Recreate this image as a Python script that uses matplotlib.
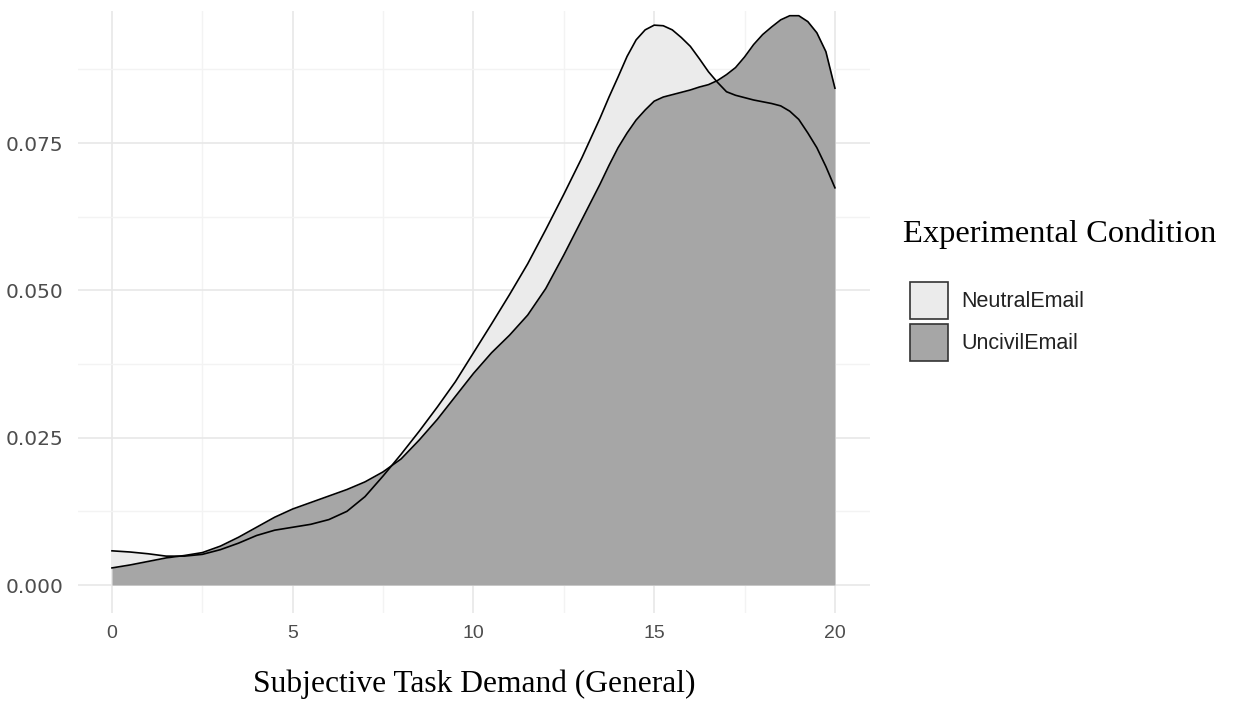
import numpy as np
import matplotlib
matplotlib.use("Agg")
import matplotlib.pyplot as plt
from matplotlib.patches import Patch
from matplotlib.ticker import MultipleLocator

# values (finer steps near the peaks)
task_demand = [0, 0.5, 1, 1.5, 2, 2.5, 3, 3.5, 4, 4.5, 5, 5.5, 6, 6.5, 7, 7.5,
               8, 8.5, 9, 9.5, 10, 10.5, 11, 11.5, 12, 12.5, 13,
               13.5, 13.75, 14, 14.25, 14.5, 14.75, 15, 15.25, 15.5, 15.75,
               16, 16.25, 16.5, 16.75, 17, 17.25, 17.5, 17.75, 18, 18.25,
               18.5, 18.75, 19, 19.25, 19.5, 19.75, 20]
neutral_density = [0.0058, 0.0056, 0.0053, 0.0049, 0.0049, 0.0052, 0.0060, 0.0071,
                   0.0084, 0.0093, 0.0098, 0.0103, 0.0111, 0.0125, 0.0150, 0.0185,
                   0.0222, 0.0261, 0.0302, 0.0345, 0.0394, 0.0443, 0.0493, 0.0545,
                   0.0603, 0.0663, 0.0725,
                   0.0792, 0.0828, 0.0862, 0.0897, 0.0925, 0.0942, 0.0950, 0.0949,
                   0.0942, 0.0929, 0.0914, 0.0893, 0.0871, 0.0853, 0.0837, 0.0831,
                   0.0827, 0.0823, 0.0820, 0.0817, 0.0813, 0.0804, 0.0790, 0.0767,
                   0.0742, 0.0710, 0.0674]
uncivil_density = [0.0029, 0.0034, 0.0040, 0.0046, 0.0050, 0.0055, 0.0066, 0.0081,
                   0.0098, 0.0115, 0.0129, 0.0140, 0.0151, 0.0162, 0.0175, 0.0192,
                   0.0214, 0.0246, 0.0281, 0.0320, 0.0359, 0.0394, 0.0424, 0.0458,
                   0.0503, 0.0560, 0.0620,
                   0.0680, 0.0712, 0.0742, 0.0767, 0.0789, 0.0806, 0.0821, 0.0828,
                   0.0832, 0.0836, 0.0840, 0.0845, 0.0849, 0.0856, 0.0866, 0.0878,
                   0.0896, 0.0917, 0.0934, 0.0947, 0.0959, 0.0966, 0.0966, 0.0956,
                   0.0937, 0.0905, 0.0843]
conditions = ["NeutralEmail", "UncivilEmail"]
fill_colors = ["#ebebeb", "#a6a6a6"]
x_ticks = [0, 5, 10, 15, 20]
y_ticks = [0.000, 0.025, 0.050, 0.075]

fig = plt.figure(figsize=(12.33, 7.06), dpi=100)
ax = fig.add_axes([78 / 1233, 93 / 706, 792 / 1233, 602 / 706])

x = np.array(task_demand)
for dens, col in zip([neutral_density, uncivil_density], fill_colors):
    ax.fill_between(x, 0, dens, color=col, linewidth=0, zorder=2)
    ax.plot(x, dens, color="black", linewidth=1.2, zorder=3)

ax.set_xlim(-0.94, 20.97)
ax.set_ylim(-0.00475, 0.0974)
ax.set_xticks(x_ticks)
ax.set_yticks(y_ticks)
ax.set_yticklabels([f"{v:.3f}" for v in y_ticks])
ax.xaxis.set_minor_locator(MultipleLocator(2.5))
ax.yaxis.set_minor_locator(MultipleLocator(0.0125))
ax.grid(which="major", color="#e8e8e8", linewidth=1.2, zorder=0)
ax.grid(which="minor", color="#f3f3f3", linewidth=1.0, zorder=0)
ax.set_axisbelow(True)
for s in ax.spines.values():
    s.set_visible(False)
ax.tick_params(which="both", length=0)
ax.tick_params(axis="x", pad=8.5, labelsize=14, labelcolor="#4d4d4d")
ax.tick_params(axis="y", pad=10.5, labelsize=14.5, labelcolor="#4d4d4d")
for lab in ax.get_xticklabels():
    lab.set_family("Liberation Sans")
for lab in ax.get_yticklabels():
    lab.set_family("DejaVu Sans")

ax.set_xlabel("Subjective Task Demand (General)", family="Liberation Serif",
              fontsize=22.7, labelpad=20)

fig.text(903 / 1233, 1 - 234 / 706, "Experimental Condition", family="Liberation Serif",
         fontsize=23.4, va="center", ha="left")
handles = [Patch(facecolor=c, edgecolor="#333333", linewidth=1.2) for c in fill_colors]
leg = fig.legend(handles, conditions, loc="upper left",
                 bbox_to_anchor=(910 / 1233, 1 - 282 / 706),
                 frameon=False, borderpad=0, borderaxespad=0,
                 handlelength=1.77, handleheight=2.24, handletextpad=0.6,
                 labelspacing=0.25, prop={"family": "Liberation Sans", "size": 15.5})
for t in leg.get_texts():
    t.set_color("#222222")

fig.savefig("out.png", dpi=100)
